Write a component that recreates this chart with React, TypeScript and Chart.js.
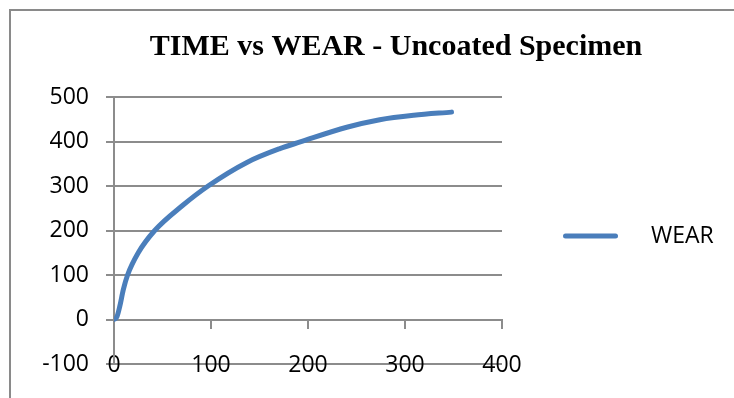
import { useEffect, useRef } from "react";
import { Chart, registerables } from "chart.js";

Chart.register(...registerables);

const chartTitle = "TIME vs WEAR - Uncoated Specimen";
const seriesName = "WEAR";
const timeValues = [0, 3, 6, 9.6, 14, 25, 42, 70, 97, 137, 171, 192, 240, 274, 309, 348];
const wearValues = [0, 6, 30, 67, 100, 150, 200, 255, 300, 353, 384, 399, 432, 449, 459, 466];
const xMin = 0;
const xMax = 400;
const xStep = 100;
const yMin = -100;
const yMax = 500;
const yStep = 100;

const LINE_BLUE = "#4a7ebb";
const GRID = "#8c8c8c";
const TICK_FONT = { family: "'Open Sans', 'Noto Sans', sans-serif", size: 23 };

const framePlugin = {
  id: "frame",
  beforeDraw(chart: any) {
    const ctx = chart.ctx;
    ctx.save();
    ctx.fillStyle = "#ffffff";
    ctx.fillRect(0, 0, chart.width, chart.height);
    ctx.strokeStyle = "#8a8a8a";
    ctx.lineWidth = 2;
    ctx.strokeRect(10, 10, chart.width + 100, chart.height + 100);
    ctx.restore();
  },
};

export default function App() {
  const canvasRef = useRef<HTMLCanvasElement | null>(null);

  useEffect(() => {
    const canvas = canvasRef.current;
    if (!canvas) return;
    const points = timeValues.map((t, i) => ({ x: t, y: wearValues[i] }));
    const chart = new Chart(canvas, {
      type: "line",
      data: {
        datasets: [
          {
            label: seriesName,
            data: points,
            borderColor: LINE_BLUE,
            backgroundColor: LINE_BLUE,
            borderWidth: 5,
            borderCapStyle: "round",
            borderJoinStyle: "round",
            pointRadius: 0,
            pointHoverRadius: 0,
            cubicInterpolationMode: "monotone",
            fill: false,
            xAxisID: "x",
            yAxisID: "y",
          },
        ],
      },
      options: {
        responsive: false,
        animation: false,
        events: [],
        layout: { padding: { left: 10, top: 10, right: 0, bottom: 0 } },
        scales: {
          x: {
            type: "linear",
            position: "bottom",
            min: xMin,
            max: xMax,
            ticks: { stepSize: xStep, padding: -15.2, mirror: true, color: "#000", font: TICK_FONT, maxRotation: 0 },
            grid: { display: false, drawTicks: false },
            border: { display: false },
            afterFit: (s: any) => {
              s.height = 34;
            },
          },
          x0: {
            type: "linear",
            position: { y: 0 },
            min: xMin,
            max: xMax,
            ticks: { stepSize: xStep, display: false },
            grid: { drawOnChartArea: false, drawTicks: true, tickLength: 8, color: GRID, lineWidth: 2 },
            border: { display: true, color: GRID, width: 2 },
          },
          y: {
            type: "linear",
            position: "left",
            min: yMin,
            max: yMax,
            ticks: { stepSize: yStep, padding: 17, color: "#000", font: TICK_FONT },
            grid: { color: GRID, lineWidth: 2, tickLength: 8, drawTicks: true },
            border: { display: true, color: GRID, width: 2 },
            afterFit: (s: any) => {
              s.width = 104;
            },
          },
        },
        plugins: {
          title: {
            display: true,
            text: chartTitle,
            color: "#000",
            font: { family: "'Liberation Serif', 'Times New Roman', serif", size: 30, weight: "bold" },
            padding: { top: 19.5, bottom: 31.5 },
          },
          legend: {
            display: true,
            position: "right",
            fullSize: false,
            maxWidth: 280,
            title: { display: true, text: "", padding: 5, font: { size: 1 } },
            labels: {
              usePointStyle: true,
              pointStyle: "line",
              pointStyleWidth: 50,
              padding: 63.5,
              color: "#000",
              font: TICK_FONT,
              generateLabels: (c: any) => {
                const items = Chart.defaults.plugins.legend.labels.generateLabels(c);
                items.forEach((it: any) => {
                  it.text = "    " + it.text + "                    ";
                  it.lineWidth = 5;
                  it.strokeStyle = LINE_BLUE;
                  it.lineCap = "round";
                  it.pointStyle = "line";
                });
                return items;
              },
            },
          },
          tooltip: { enabled: false },
        },
      },
      plugins: [framePlugin],
    } as any);
    return () => chart.destroy();
  }, []);

  return (
    <div style={{ position: "absolute", left: 0, top: 0, width: 734, height: 398, overflow: "hidden", background: "#fff" }}>
      <canvas ref={canvasRef} width={782} height={398} style={{ display: "block" }} />
    </div>
  );
}
